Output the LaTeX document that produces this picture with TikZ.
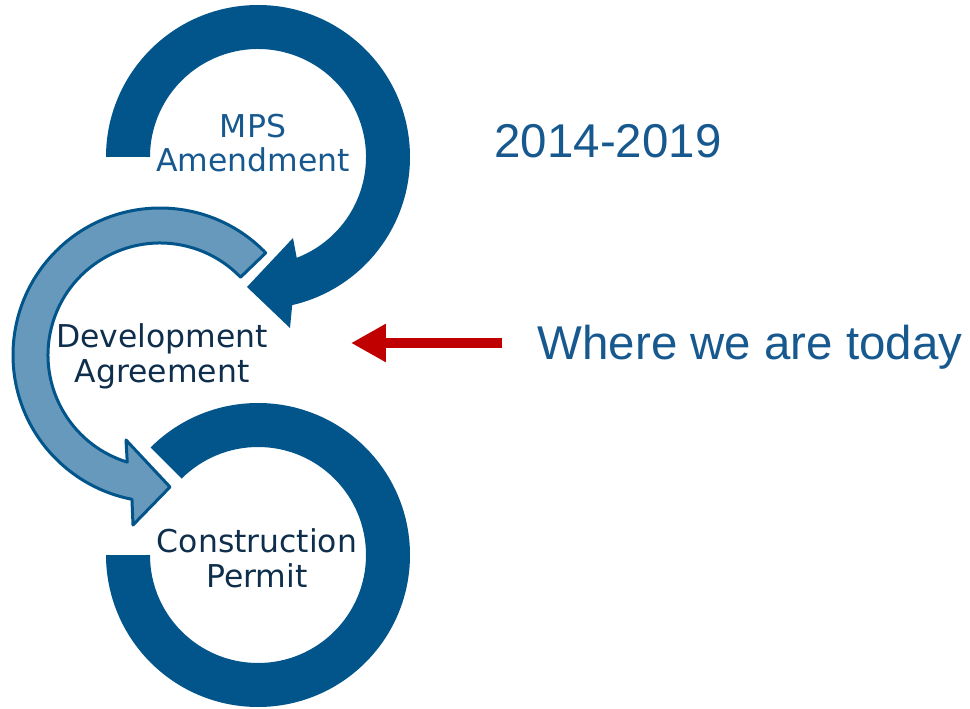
\documentclass[tikz,border=0pt]{standalone}
\usepackage{fontspec}
\setmainfont{DejaVu Sans}
\newfontfamily\arialfont{Liberation Sans}
\usepackage{tikz}
\usetikzlibrary{calc, arrows.meta, positioning}
\definecolor{ringblue}{HTML}{02558B}
\definecolor{lightblue}{HTML}{6699BB}
\definecolor{labelnavy}{HTML}{0E2E4C}
\definecolor{textblue}{HTML}{17598F}
\definecolor{pointred}{HTML}{C00000}

\begin{document}
\begin{tikzpicture}[x=0.02cm, y=0.02cm,
    ring/.style={fill=ringblue, draw=none},
    lightring/.style={fill=lightblue, draw=ringblue, line width=0.06cm, line join=round},
    stage/.style={align=center, inner sep=0pt, font=\fontsize{17.9pt}{19.8pt}\selectfont},
    side/.style={inner sep=0pt, text=textblue, font=\arialfont\fontsize{27pt}{32pt}\selectfont},
    pointer/.style={pointred, line width=0.22cm, -{Triangle[length=0.7cm, width=0.72cm]}}]
  \useasboundingbox (0,0) rectangle (970,-709);
  \coordinate (T) at (258,-157);
  \coordinate (M) at (160,-355);
  \coordinate (B) at (258,-555);
  % bottom ring, open on the upper left
  \fill[ring] ($(B)+(135:152)$) arc[start angle=135, end angle=-180, radius=152]
    -- ($(B)+(180:108)$) arc[start angle=-180, end angle=135, radius=108] -- cycle;
  % top ring with its head
  \fill[ring] ($(T)+(180:152)$) arc[start angle=180, end angle=-77, radius=152]
    -- (290,-328) -- (247,-287) -- (293,-238)
    -- ($(T)+(-69:108)$) arc[start angle=-69, end angle=180, radius=108] -- cycle;
  % middle arrow
  \filldraw[lightring] ($(M)+(44:147)$) arc[start angle=44, end angle=259, radius=147]
    -- (133,-525) -- (170,-487) -- (126,-440)
    -- ($(M)+(253:112)$) arc[start angle=253, end angle=44, radius=112] -- cycle;
  \node[stage, text=textblue] (mps) at (253,-143) {MPS\\Amendment};
  \node[stage, text=labelnavy] (dev) at (162,-356) {Development\\Agreement};
  \node[stage, text=labelnavy] (permit) at (257,-558) {Construction\\Permit};
  \node[side, anchor=base] (years) at (608,-158) {2014-2019};
  \node[side, anchor=base] (today) at (750,-359) {Where we are today};
  \coordinate (tail) at (502,-343);
  \coordinate (here) at (351,-343);
  \draw[pointer] (tail) -- (here);
\end{tikzpicture}
\end{document}
